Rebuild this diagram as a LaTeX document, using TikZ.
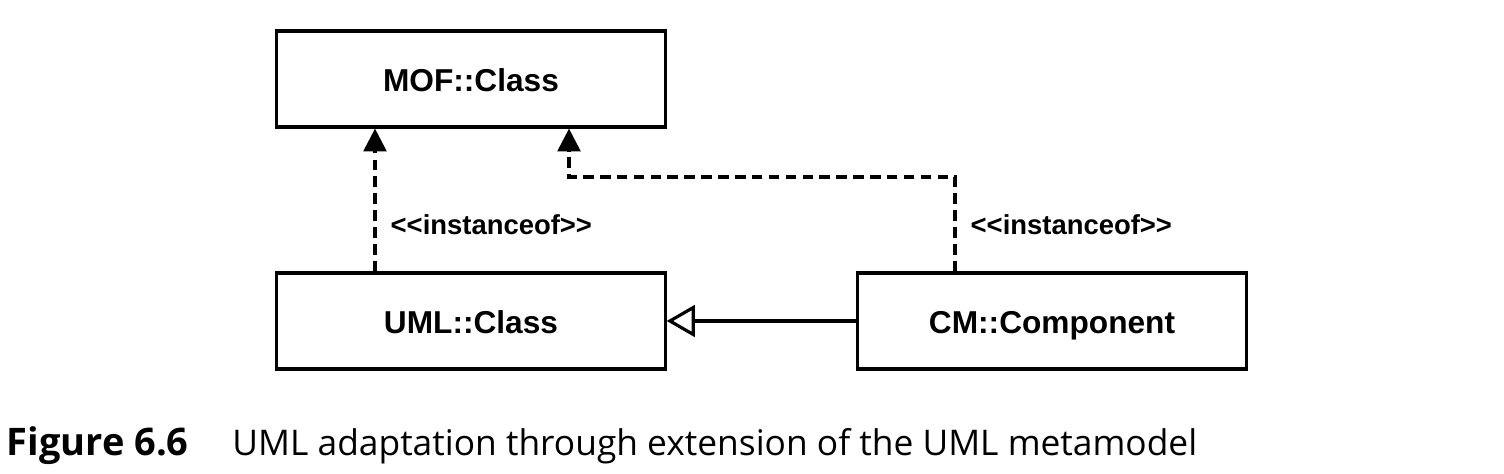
\documentclass[tikz,border=0pt]{standalone}
\usepackage{fontspec}
\setmainfont{Liberation Sans}
\newfontfamily\capfont{Open Sans}
\usetikzlibrary{arrows.meta,positioning}

\tikzset{
  classbox/.style={draw, line width=0.9pt, minimum width=3.88cm, minimum height=0.96cm,
    inner sep=0pt, text height=1.55ex, text depth=0.2ex,
    font=\fontsize{9}{10}\selectfont\bfseries},
  depline/.style={line width=0.9pt, dash pattern=on 3pt off 1.8pt,
    -{Triangle[length=6.5pt,width=6.5pt]}},
  genline/.style={line width=0.9pt, -{Triangle[open,length=8pt,width=9pt]}},
  stereo/.style={anchor=west, inner sep=0pt, font=\fontsize{7.8}{9}\selectfont\bfseries}
}

\begin{document}
\begin{tikzpicture}[x=0.01cm, y=-0.01cm]
  \useasboundingbox (0,0) rectangle (1504,474);
  % classes
  \node[classbox] (mof) at (471,79) {MOF::Class};
  \node[classbox] (umlclass) at (471,321) {UML::Class};
  \node[classbox] (cmcomp) at (1052,321) {CM::Component};
  % connector columns
  \coordinate (leftcol) at (375,0);
  \coordinate (rightcol) at (955,0);
  \coordinate (topcol) at (569,0);
  \coordinate (bend) at (955,177);
  % instanceof links
  \draw[depline] (umlclass.north -| leftcol) -- (mof.south -| leftcol);
  \draw[depline] (cmcomp.north -| rightcol) -- (bend) -| (mof.south -| topcol);
  \node[stereo] (lblleft) at (390,225) {<{}<instanceof>{}>};
  \node[stereo] (lblright) at (970,225) {<{}<instanceof>{}>};
  % generalisation
  \draw[genline] (cmcomp.west) -- (umlclass.east);
  % caption
  \node[anchor=west, inner sep=0pt, font=\capfont\fontsize{10.05}{12}\selectfont] (caption) at (6,446)
    {{\fontsize{10.8}{12}\selectfont\bfseries Figure 6.6}\hspace{12.5pt}UML adaptation through extension of the UML metamodel};
\end{tikzpicture}
\end{document}
